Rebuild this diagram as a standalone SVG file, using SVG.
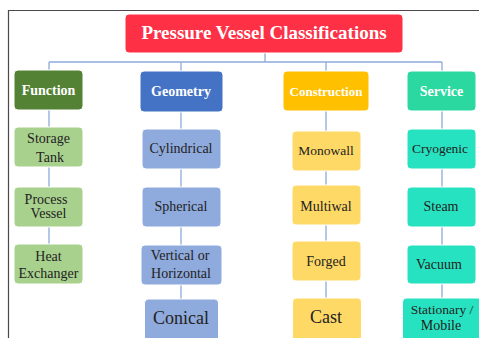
<svg xmlns="http://www.w3.org/2000/svg" width="479" height="338" viewBox="0 0 479 338">
<style>
  text { font-family: "Liberation Serif", "Times New Roman", serif; text-anchor: middle; fill: #222; }
  .hd { font-weight: bold; fill: #fff; font-size: 14px; }
  .ch { font-size: 14px; }
  .big { font-size: 18px; }
  .box { stroke: #fff; stroke-width: 1; }
  .conn { stroke: #8FAADC; stroke-width: 1.3; fill: none; }
</style>
<rect x="0" y="0" width="479" height="338" fill="#fff"/>
<path d="M8.5 338 V10.5 H479" stroke="#4a4a4a" stroke-width="1.2" fill="none"/>

<g id="connectors">
  <path class="conn" d="M265 53 V62 M49 62 H442 M49 62 V70 M181 62 V71 M326 62 V71 M442 62 V71"/>
  <path class="conn" d="M49 110 V244"/>
  <path class="conn" d="M181 112 V299"/>
  <path class="conn" d="M326 111 V298"/>
  <path class="conn" d="M442 111 V298"/>
</g>

<g id="title">
  <rect class="box" x="125" y="14" width="278" height="39" rx="4" fill="#FE3046"/>
  <text x="264" y="39" style="font-size:19px;font-weight:bold;fill:#fff">Pressure Vessel Classifications</text>
</g>

<g id="function">
  <rect class="box" x="14" y="70" width="69" height="40" rx="4" fill="#548235"/>
  <text class="hd" x="48.5" y="95">Function</text>
</g>
<g id="geometry">
  <rect class="box" x="140" y="71" width="83" height="41" rx="4" fill="#4472C4"/>
  <text class="hd" x="181" y="96">Geometry</text>
</g>
<g id="construction">
  <rect class="box" x="283" y="71" width="86" height="40" rx="4" fill="#FFC000"/>
  <text class="hd" x="326" y="96" style="font-size:13px">Construction</text>
</g>
<g id="service">
  <rect class="box" x="407" y="71" width="69" height="40" rx="4" fill="#2BD89F"/>
  <text class="hd" x="441.5" y="96">Service</text>
</g>

<g id="storage-tank">
  <rect class="box" x="14" y="127" width="69" height="40" rx="4" fill="#A9D18E"/>
  <text class="ch" x="48.5" y="143">Storage</text>
  <text class="ch" x="50" y="162">Tank</text>
</g>
<g id="process-vessel">
  <rect class="box" x="14" y="187" width="69" height="40" rx="4" fill="#A9D18E"/>
  <text class="ch" x="46" y="204">Process</text>
  <text class="ch" x="48.5" y="218">Vessel</text>
</g>
<g id="heat-exchanger">
  <rect class="box" x="14" y="244" width="69" height="40" rx="4" fill="#A9D18E"/>
  <text class="ch" x="48.5" y="261">Heat</text>
  <text class="ch" x="48.5" y="278">Exchanger</text>
</g>

<g id="cylindrical">
  <rect class="box" x="142" y="129" width="79" height="40" rx="4" fill="#8FAADC"/>
  <text class="ch" x="181" y="153">Cylindrical</text>
</g>
<g id="spherical">
  <rect class="box" x="142" y="187" width="79" height="40" rx="4" fill="#8FAADC"/>
  <text class="ch" x="181" y="211">Spherical</text>
</g>
<g id="vertical-horizontal">
  <rect class="box" x="141" y="245" width="81" height="40" rx="4" fill="#8FAADC"/>
  <text class="ch" x="180" y="260">Vertical or</text>
  <text class="ch" x="181" y="278">Horizontal</text>
</g>
<g id="conical">
  <rect class="box" x="144.5" y="299" width="74" height="50" rx="4" fill="#8FAADC"/>
  <text class="ch big" x="181" y="324">Conical</text>
</g>

<g id="monowall">
  <rect class="box" x="292" y="131" width="69" height="40" rx="4" fill="#FFD966"/>
  <text class="ch" x="326" y="155" style="font-size:13.5px">Monowall</text>
</g>
<g id="multiwal">
  <rect class="box" x="292" y="185" width="69" height="40" rx="4" fill="#FFD966"/>
  <text class="ch" x="326" y="211">Multiwal</text>
</g>
<g id="forged">
  <rect class="box" x="292" y="241" width="69" height="40" rx="4" fill="#FFD966"/>
  <text class="ch" x="326" y="266">Forged</text>
</g>
<g id="cast">
  <rect class="box" x="292.5" y="298" width="69" height="50" rx="4" fill="#FFD966"/>
  <text class="ch big" x="326" y="323">Cast</text>
</g>

<g id="cryogenic">
  <rect class="box" x="407" y="129" width="69" height="40" rx="4" fill="#27E2C0"/>
  <text class="ch" x="440" y="153" style="font-size:13.5px">Cryogenic</text>
</g>
<g id="steam">
  <rect class="box" x="407" y="187" width="69" height="40" rx="4" fill="#27E2C0"/>
  <text class="ch" x="441" y="211">Steam</text>
</g>
<g id="vacuum">
  <rect class="box" x="407" y="245" width="69" height="39" rx="4" fill="#27E2C0"/>
  <text class="ch" x="439" y="269">Vacuum</text>
</g>
<g id="stationary-mobile">
  <rect class="box" x="402.5" y="298" width="82" height="50" rx="4" fill="#27E2C0"/>
  <text class="ch" x="442" y="314" style="font-size:13.5px">Stationary /</text>
  <text class="ch" x="441" y="330">Mobile</text>
</g>
</svg>
